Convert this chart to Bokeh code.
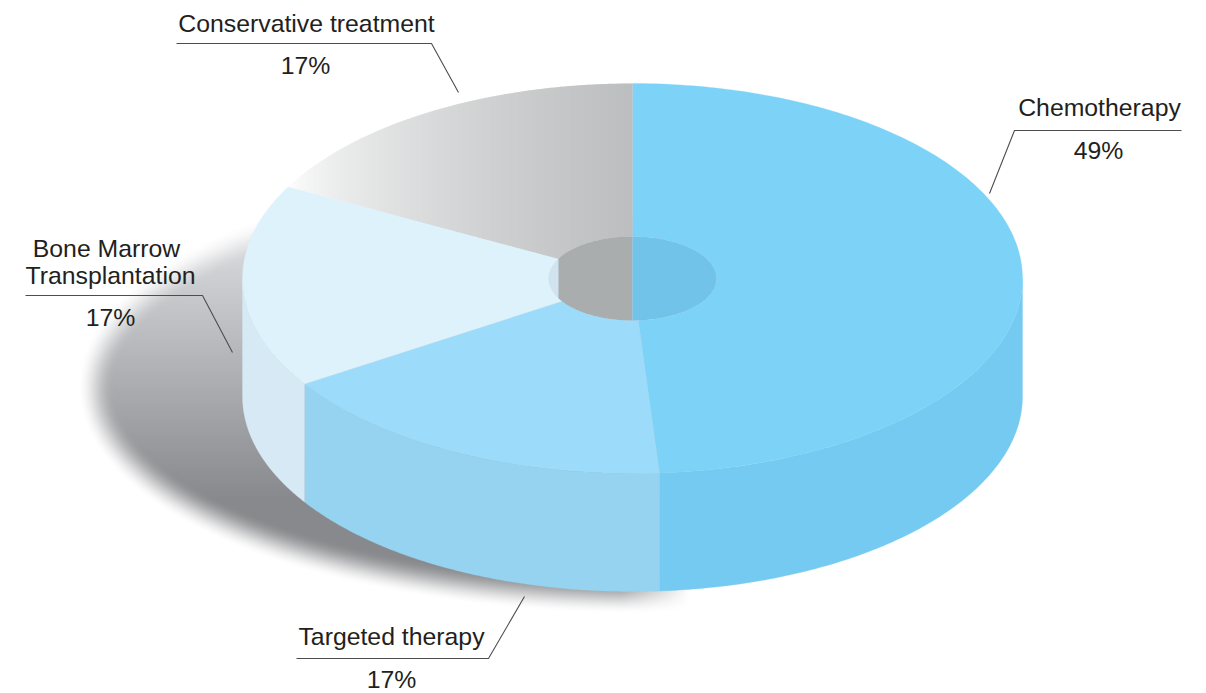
import numpy as np
from bokeh.core.properties import value
from bokeh.embed import file_html
from bokeh.models import Range1d
from bokeh.plotting import figure
from bokeh.resources import INLINE

# ---- data ----
categories = ["Chemotherapy", "Targeted therapy", "Bone Marrow Transplantation", "Conservative treatment"]
shares = [48.9, 17.0, 16.9, 17.2]  # sweep of each slice as drawn in the picture
pct_labels = ["49%", "17%", "17%", "17%"]

# ---- styles ----
top_colors = ["#7cd2f7", "#9cdbf9", "#def2fc", None]
wall_colors = ["#74caf0", "#95d3f1", "#d6e9f5"]
hole_right = "#72c3e9"
hole_mid = "#a9adad"
hole_left = "#d0e3ee"
ink = "#231f20"
rule = "#4d4d4f"
FONT = "Liberation Sans"
FS = "24.8px"

CX, CY, RX, RY, DEPTH = 632.0, 278.0, 390.0, 195.0, 118.0
HRX, HRY = 84.0, 42.0
HOLE_CUT = 558.0

p = figure(width=1206, height=693, output_backend="svg", toolbar_location=None,
           x_range=Range1d(0, 1206), y_range=Range1d(693, 0),
           min_border=0, outline_line_color=None, background_fill_color="white",
           border_fill_color="white")
p.axis.visible = False
p.grid.visible = False

bounds = np.cumsum([0] + shares) / sum(shares) * 360.0


def px(theta):
    return CX + RX * np.sin(np.radians(theta))


def py(theta):
    return CY - RY * np.cos(np.radians(theta))


# ---- blurred drop shadow ----
SX0, SX1, SY0, SY1 = 50, 720, 215, 630
xs = np.arange(SX0, SX1) + 0.5
ys = np.arange(SY0, SY1) + 0.5
gx, gy = np.meshgrid(xs, ys)
ecx, ecy, erx, ery = 640.0, 386.0, 545.0, 210.0
nx, ny = (gx - ecx) / erx, (gy - ecy) / ery
r = np.sqrt(nx ** 2 + ny ** 2)
grad = np.sqrt((nx / erx) ** 2 + (ny / ery) ** 2) / np.maximum(r, 1e-6)
dist = (r - 1) / np.maximum(grad, 1e-6)
t = np.clip((18 - dist) / 36, 0, 1)
alpha = t * t * (3 - 2 * t)
alpha *= np.clip((690 - gx) / 70, 0, 1)
shade = np.clip(208 - (gy - 270) * 0.313, 136, 225)
img = np.zeros(gx.shape + (4,), dtype=np.uint8)
img[..., 0] = shade
img[..., 1] = shade + 1
img[..., 2] = shade + 4
img[..., 3] = (alpha * 255).astype(np.uint8)
packed = np.frombuffer(img.tobytes(), dtype=np.uint32).reshape(gx.shape)
p.image_rgba(image=[packed], x=SX0, y=SY0, dw=SX1 - SX0, dh=SY1 - SY0)

# ---- side walls ----
for i in range(3):
    a = max(bounds[i], 90.0)
    b = min(bounds[i + 1], 270.0)
    th = np.linspace(a, b, 120)
    wx = np.concatenate([px(th), px(th[::-1])])
    wy = np.concatenate([py(th), py(th[::-1]) + DEPTH])
    p.patch(wx, wy, fill_color=wall_colors[i], line_color=wall_colors[i], line_width=0.3)

# ---- flat top slices ----
for i in range(3):
    th = np.linspace(bounds[i], bounds[i + 1], 200)
    p.patch(np.concatenate([[CX], px(th)]), np.concatenate([[CY], py(th)]),
            fill_color=top_colors[i], line_color=top_colors[i], line_width=0.3)

# gray slice: horizontal fade, drawn as narrow strips
th = np.linspace(bounds[3], bounds[4], 400)
arc_x, arc_y = px(th), py(th)
edge_x0, edge_y0 = arc_x[0], arc_y[0]
sx = np.arange(edge_x0, CX, 2.0)
strip_x, strip_y, strip_c = [], [], []
for x0 in sx:
    x1 = min(x0 + 2.6, CX)
    top0, top1 = np.interp([x0, x1], arc_x, arc_y)
    low0 = CY + (x0 - CX) * (CY - edge_y0) / (CX - edge_x0)
    low1 = CY + (x1 - CX) * (CY - edge_y0) / (CX - edge_x0)
    f = ((x0 - edge_x0) / (CX - edge_x0)) ** 0.65
    c0, c1 = np.array([255, 255, 255]), np.array([188, 190, 191])
    col = c0 + (c1 - c0) * f
    strip_x.append([x0, x1, x1, x0])
    strip_y.append([top0, top1, low1, low0])
    strip_c.append("#%02x%02x%02x" % tuple(int(v) for v in col))
p.patches(strip_x, strip_y, fill_color=strip_c, line_color=None)

# ---- centre hub ----
t_h = np.linspace(0, 2 * np.pi, 240)
p.patch(CX + HRX * np.cos(t_h), CY + HRY * np.sin(t_h), fill_color=hole_left, line_color=None)
outer = np.radians(np.linspace(180, 360, 240))
ox = CX + HRX * np.sin(outer)
oy = CY - HRY * np.cos(outer)
keep = ox >= HOLE_CUT
p.patch(ox[keep], oy[keep], fill_color=hole_mid, line_color=None)
inner = np.radians(np.linspace(0, 180, 120))
p.patch(CX + HRX * np.sin(inner), CY - HRY * np.cos(inner), fill_color=hole_right, line_color=None)

# ---- leader lines ----
leaders = [
    ([176, 431, 458], [43, 43, 92]),
    ([1181, 1014, 989], [130, 130, 193]),
    ([25, 202, 232], [295, 295, 352]),
    ([296, 488, 524], [658, 658, 596]),
]
for lx, ly in leaders:
    p.line(lx, ly, line_color=rule, line_width=1.1)

# ---- labels ----
label_rows = [
    (categories[3], 306, 23), (pct_labels[3], 305, 65),
    (categories[0], 1099, 107), (pct_labels[0], 1098, 150),
    ("Bone Marrow", 106, 248), ("Transplantation", 110, 275), (pct_labels[2], 110, 317),
    (categories[1], 391, 636), (pct_labels[1], 391, 679),
]
for txt, x, y in label_rows:
    p.text([x], [y], text=[txt], text_font=value(FONT), text_font_size=FS,
           text_color=ink, text_align="center", text_baseline="middle")

open("out.html", "w").write(file_html(p, INLINE))
